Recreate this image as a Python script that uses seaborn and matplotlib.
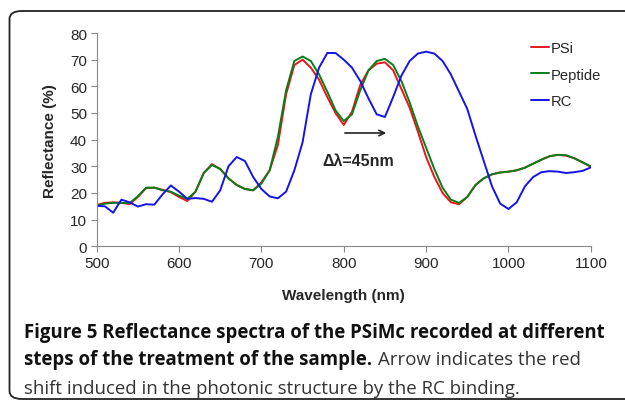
import numpy as np
import pandas as pd
import matplotlib
matplotlib.use('Agg')
import matplotlib.pyplot as plt
from matplotlib.patches import FancyBboxPatch
import seaborn as sns

wavelength = list(range(500, 1101, 10))

psi = [15.5, 16.3, 16.5, 16.3, 15.8, 18.5, 21.8, 22.0, 21.2, 20.3,
       18.5, 17.0, 20.5, 27.5, 30.8, 29.0, 25.5, 23.0, 21.5, 21.0,
       24.0, 28.5, 38.0, 57.0, 68.0, 70.0, 67.0, 62.5, 56.0, 50.0,
       45.5, 50.5, 60.5, 66.0, 68.5, 69.0, 66.0, 59.0, 52.0, 43.0,
       33.5, 26.0, 20.0, 16.5, 15.8, 18.5, 23.0, 25.5, 27.0, 27.7,
       28.0, 28.5, 29.5, 31.0, 32.5, 33.8, 34.3, 34.0, 33.0, 31.5,
       29.8]

peptide = [15.3, 16.0, 16.3, 16.3, 16.2, 18.8, 22.0, 22.0, 21.0, 20.5,
           19.0, 17.8, 20.5, 27.5, 30.5, 29.0, 25.5, 23.0, 21.5, 21.0,
           23.5, 28.5, 41.0, 58.5, 69.5, 71.2, 69.5, 64.5, 58.0, 51.0,
           47.0, 49.5, 58.5, 66.0, 69.5, 70.3, 68.0, 62.0, 54.0, 45.0,
           37.0, 29.0, 22.0, 17.5, 16.3, 18.5, 23.0, 25.5, 27.0, 27.7,
           28.0, 28.5, 29.5, 31.0, 32.5, 33.8, 34.3, 34.2, 33.0, 31.5,
           30.0]

rc = [15.2, 15.0, 12.6, 17.5, 16.5, 14.9, 15.8, 15.6, 19.5, 22.8,
      20.5, 17.8, 18.1, 17.8, 16.7, 21.0, 30.0, 33.5, 32.0, 26.0,
      21.5, 18.7, 18.0, 20.5, 28.5, 39.0, 57.0, 67.0, 72.5, 72.5,
      70.0, 67.0, 62.0, 55.5, 49.5, 48.5, 56.0, 64.0, 69.5, 72.3,
      73.0, 72.3, 69.5, 64.5, 58.0, 51.5, 41.5, 32.0, 22.5, 16.0,
      14.0, 16.5, 22.5, 26.0, 27.8, 28.2, 28.0, 27.5, 27.8, 28.3,
      29.6]

series_names = ["PSi", "Peptide", "RC"]
colors = ["#e8161b", "#0a7d16", "#1414e6"]

df = pd.DataFrame({
    "Wavelength": wavelength * 3,
    "Reflectance": psi + peptide + rc,
    "Series": [n for n in series_names for _ in wavelength],
})

sns.set_style("ticks")
plt.rcParams['font.family'] = ['Liberation Sans', 'DejaVu Sans']

fig = plt.figure(figsize=(6.25, 4.02), dpi=100)
ax = fig.add_axes([0.1547, 0.3848, 0.7906, 0.5306])

sns.lineplot(data=df, x="Wavelength", y="Reflectance", hue="Series",
             palette=dict(zip(series_names, colors)), linewidth=1.4, ax=ax,
             legend=False)

ax.set_xlim(500, 1100)
ax.set_ylim(0, 80)
ax.set_xticks(range(500, 1101, 100))
ax.set_yticks(range(0, 81, 10))
ax.tick_params(labelsize=11, length=4, color="#888888", width=0.8, pad=3)
for s in ["top", "right"]:
    ax.spines[s].set_visible(False)
for s in ["left", "bottom"]:
    ax.spines[s].set_color("#888888")
    ax.spines[s].set_linewidth(0.8)

ax.set_xlabel("Wavelength (nm)", fontsize=11, fontweight="bold", labelpad=13)
ax.set_ylabel("Reflectance (%)", fontsize=11, fontweight="bold", labelpad=9)

handles = [plt.Line2D([], [], color=c, linewidth=1.4) for c in colors]
ax.legend(handles, series_names, loc="upper left", bbox_to_anchor=(0.868, 0.99),
          frameon=False, fontsize=10.6, handlelength=1.2, handletextpad=0.1,
          labelspacing=0.85, borderaxespad=0)

ax.annotate("", xy=(855, 42.5), xytext=(798, 42.5),
            arrowprops=dict(arrowstyle="->", color="#222222", lw=1.2))
ax.text(818, 32, "Δλ=45nm", fontsize=11.5, fontweight="bold", ha="center", va="center")

# caption box
box = FancyBboxPatch((9.5 / 625, 2 / 402), 640 / 625, 388 / 402,
                     boxstyle="round,pad=0,rounding_size=0.02",
                     transform=fig.transFigure, fill=False, edgecolor="#222222",
                     linewidth=1.3, clip_on=False)
fig.patches.append(box)

cap_font = ['Open Sans', 'DejaVu Sans']
cap_size = 13.4
x0 = 24 / 625
fig.text(x0, 1 - 333 / 402, "Figure 5 Reflectance spectra of the PSiMc recorded at different",
         fontsize=cap_size, fontweight="bold", family=cap_font, va="center", color="#111111")
t2 = fig.text(x0, 1 - 360 / 402, "steps of the treatment of the sample.",
              fontsize=cap_size, fontweight="bold", family=cap_font, va="center", color="#111111")
fig.text(x0, 1 - 389 / 402, "shift induced in the photonic structure by the RC binding.",
         fontsize=cap_size, family=cap_font, va="center", color="#333333")

fig.canvas.draw()
bb = t2.get_window_extent(fig.canvas.get_renderer())
fig.text(bb.x1 / fig.bbox.width + 6 / 625, 1 - 360 / 402, "Arrow indicates the red",
         fontsize=cap_size, family=cap_font, va="center", color="#333333")

fig.savefig("out.png", dpi=100)
